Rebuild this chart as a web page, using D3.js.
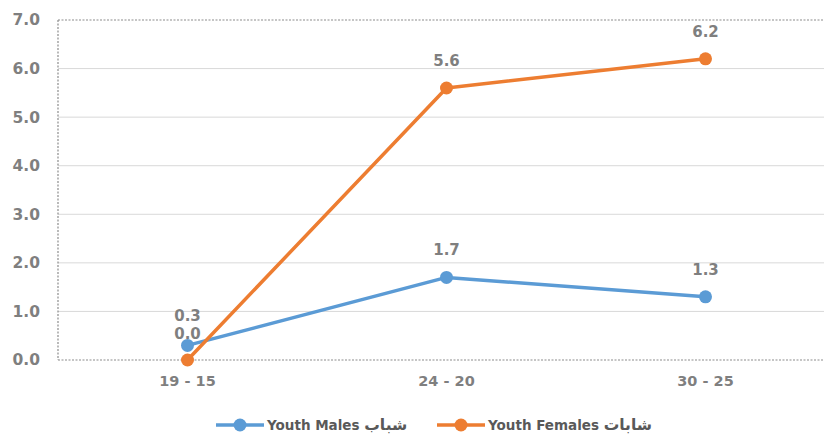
<!DOCTYPE html>
<html>
<head>
<meta charset="utf-8">
<script src="https://cdn.jsdelivr.net/npm/d3@7"></script>
<style>
  body { margin: 0; background: #fff; overflow: hidden; }
  svg { display: block; font-family: "DejaVu Sans", sans-serif; }
</style>
</head>
<body>
<div id="chart"></div>
<script>
// chart values
const CATEGORIES = ["19 - 15", "24 - 20", "30 - 25"];
const MALES = [0.3, 1.7, 1.3];
const FEMALES = [0.0, 5.6, 6.2];
const Y_TICKS = [0, 1, 2, 3, 4, 5, 6, 7];
const SERIES_EN = ["Youth Males", "Youth Females"];
const SERIES_AR = ["شباب", "شابات"];

const WIDTH = 824, HEIGHT = 436;
const MARGINS = {left: 58, right: -11, top: 20, bottom: 76};
const FONT = "DejaVu Sans, sans-serif";

const SVG = d3.select("#chart").append("svg")
              .attr("width", WIDTH)
              .attr("height", HEIGHT);

const X_SCALE = d3.scaleBand()
                  .domain(CATEGORIES)
                  .range([MARGINS.left, WIDTH - MARGINS.right]);

const Y_SCALE = d3.scaleLinear()
                  .domain([0, 7])
                  .range([HEIGHT - MARGINS.bottom, MARGINS.top]);

// gridlines
SVG.append("g")
   .selectAll("line")
   .data(Y_TICKS.slice(1, -1))
   .enter().append("line")
   .attr("x1", MARGINS.left).attr("x2", WIDTH)
   .attr("y1", d => Y_SCALE(d)).attr("y2", d => Y_SCALE(d))
   .attr("stroke", "#d9d9d9").attr("stroke-width", 1);

// dotted frame: left, top, bottom
const frame = SVG.append("g")
                 .attr("stroke", "#8c8c8c")
                 .attr("stroke-width", 1.2)
                 .attr("stroke-dasharray", "2,1.5");
frame.append("line").attr("x1", MARGINS.left).attr("x2", MARGINS.left)
     .attr("y1", Y_SCALE(7)).attr("y2", Y_SCALE(0));
frame.append("line").attr("x1", MARGINS.left).attr("x2", WIDTH)
     .attr("y1", Y_SCALE(7)).attr("y2", Y_SCALE(7));
frame.append("line").attr("x1", MARGINS.left).attr("x2", WIDTH)
     .attr("y1", Y_SCALE(0)).attr("y2", Y_SCALE(0));

// y axis
const yAxis = SVG.append("g")
                 .attr("transform", "translate(" + MARGINS.left + ",0)")
                 .call(d3.axisLeft(Y_SCALE).tickValues(Y_TICKS)
                         .tickFormat(d3.format(".1f")).tickSize(0).tickPadding(18));
yAxis.select(".domain").remove();
yAxis.selectAll("text")
     .attr("fill", "#7f7f7f")
     .attr("font-size", 15.5)
     .attr("font-weight", "bold")
     .attr("font-family", FONT);

// x axis
const xAxis = SVG.append("g")
                 .attr("transform", "translate(0," + Y_SCALE(0) + ")")
                 .call(d3.axisBottom(X_SCALE).tickSize(0).tickPadding(16));
xAxis.select(".domain").remove();
xAxis.selectAll("text")
     .attr("fill", "#7f7f7f")
     .attr("font-size", 14.5)
     .attr("font-weight", "bold")
     .attr("font-family", FONT);

const SERIES = [
  {en: SERIES_EN[0], ar: SERIES_AR[0], values: MALES, color: "#5b9bd5"},
  {en: SERIES_EN[1], ar: SERIES_AR[1], values: FEMALES, color: "#ed7d31"}
];

const xc = (c) => X_SCALE(c) + X_SCALE.bandwidth() / 2;

const line = d3.line()
               .x((d, i) => xc(CATEGORIES[i]))
               .y(d => Y_SCALE(d));

// label y: 22px above the point, pushed apart when two labels share a category
function labelY(si, i) {
  const own = Y_SCALE(SERIES[si].values[i]) - 22;
  const other = Y_SCALE(SERIES[1 - si].values[i]) - 22;
  if (Math.abs(own - other) < 18) {
    return own < other ? own - 2 : own + 1;
  }
  return own;
}

SERIES.forEach((s, si) => {
  SVG.append("path")
     .datum(s.values)
     .attr("d", line)
     .attr("fill", "none")
     .attr("stroke", s.color)
     .attr("stroke-width", 3.5)
     .attr("stroke-linejoin", "round");

  SVG.selectAll(null)
     .data(s.values)
     .enter().append("circle")
     .attr("cx", (d, i) => xc(CATEGORIES[i]))
     .attr("cy", d => Y_SCALE(d))
     .attr("r", 6.5)
     .attr("fill", s.color);

  SVG.selectAll(null)
     .data(s.values)
     .enter().append("text")
     .attr("x", (d, i) => xc(CATEGORIES[i]))
     .attr("y", (d, i) => labelY(si, i))
     .attr("text-anchor", "middle")
     .attr("fill", "#7f7f7f")
     .attr("font-size", 15)
     .attr("font-weight", "bold")
     .text(d => d.toFixed(1));
});

// legend
const LEGEND_X = [216, 437];
const legend = SVG.append("g");
SERIES.forEach((s, i) => {
  const g = legend.append("g").attr("transform", "translate(" + LEGEND_X[i] + ",425)");
  g.append("line").attr("x1", 0).attr("x2", 48)
   .attr("stroke", s.color).attr("stroke-width", 3.5);
  g.append("circle").attr("cx", 24).attr("r", 6.5).attr("fill", s.color);
  const t = g.append("text")
             .attr("x", 51).attr("y", 5)
             .attr("fill", "#595959")
             .attr("font-size", 13.5)
             .attr("font-weight", "bold");
  t.append("tspan").text(s.en + " ");
  t.append("tspan").attr("font-size", 15.5).text(s.ar);
});
</script>
</body>
</html>
